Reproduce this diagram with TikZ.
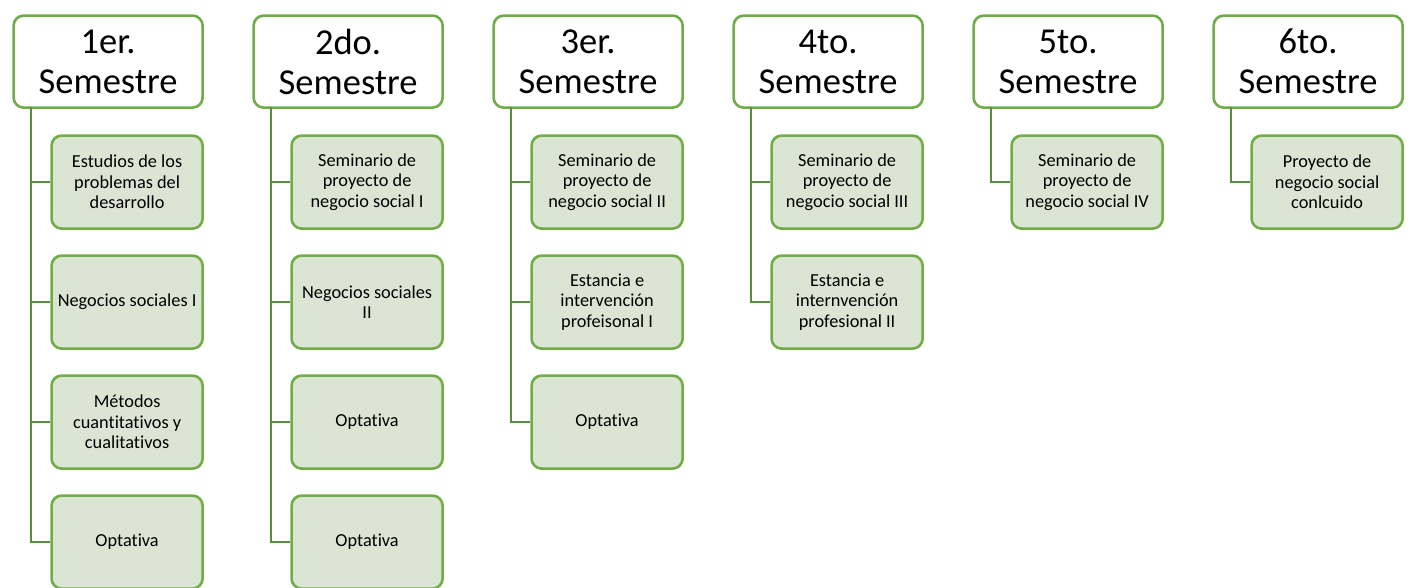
\documentclass[tikz,border=0pt]{standalone}
\usepackage{fontspec}
\setmainfont{Carlito}[Ligatures={NoCommon}]
\definecolor{bord}{HTML}{70AD47}
\definecolor{trunkc}{HTML}{5A8E3C}
\definecolor{fillg}{HTML}{DAE5D4}
\begin{document}
\begin{tikzpicture}[x=1pt,y=-1pt,
  hdr/.style={draw=bord,line width=2.6pt,rounded corners=10pt,fill=white,
    minimum width=189pt,minimum height=92pt,anchor=north west,align=center,
    inner sep=0pt,font=\fontsize{36.5}{40}\selectfont},
  sub/.style={draw=bord,line width=2.6pt,rounded corners=10pt,fill=fillg,
    minimum width=151pt,minimum height=93pt,anchor=north west,align=center,
    inner sep=0pt,font=\fontsize{18.3}{20.5}\selectfont},
  conn/.style={draw=trunkc,line width=2.6pt}]
\useasboundingbox (0,0) rectangle (1411,587);
% connectors (drawn first, behind boxes)
\coordinate (t1) at (31,107);
\coordinate (t2) at (271,107);
\coordinate (t3) at (511,107);
\coordinate (t4) at (751,107);
\coordinate (t5) at (991,107);
\coordinate (t6) at (1231,107);
% headers
\node[hdr] (h1) at (12.3,14.3) {1er.\\Semestre};
\node[hdr] (h2) at (252.3,14.3) {2do.\\Semestre};
\node[hdr] (h3) at (492.3,14.3) {3er.\\Semestre};
\node[hdr] (h4) at (732.3,14.3) {4to.\\Semestre};
\node[hdr] (h5) at (972.3,14.3) {5to.\\Semestre};
\node[hdr] (h6) at (1212.3,14.3) {6to.\\Semestre};
% column 1
\node[sub] (c11) at (50.3,134.3) {Estudios de los\\problemas del\\desarrollo};
\node[sub] (c12) at (50.3,254.3) {Negocios sociales I};
\node[sub] (c13) at (50.3,374.3) {Métodos\\cuantitativos y\\cualitativos};
\node[sub] (c14) at (50.3,494.3) {Optativa};
% column 2
\node[sub] (c21) at (290.3,134.3) {Seminario de\\proyecto de\\negocio social I};
\node[sub] (c22) at (290.3,254.3) {Negocios sociales\\II};
\node[sub] (c23) at (290.3,374.3) {Optativa};
\node[sub] (c24) at (290.3,494.3) {Optativa};
% column 3
\node[sub] (c31) at (530.3,134.3) {Seminario de\\proyecto de\\negocio social II};
\node[sub] (c32) at (530.3,254.3) {Estancia e\\intervención\\profeisonal I};
\node[sub] (c33) at (530.3,374.3) {Optativa};
% column 4
\node[sub] (c41) at (770.3,134.3) {Seminario de\\proyecto de\\negocio social III};
\node[sub] (c42) at (770.3,254.3) {Estancia e\\internvención\\profesional II};
% column 5
\node[sub] (c51) at (1010.3,134.3) {Seminario de\\proyecto de\\negocio social IV};
% column 6
\node[sub] (c61) at (1250.3,134.3) {Proyecto de\\negocio social\\conlcuido};
% connectors
\foreach \t/\c in {t1/c11,t1/c12,t1/c13,t1/c14,t2/c21,t2/c22,t2/c23,t2/c24,
  t3/c31,t3/c32,t3/c33,t4/c41,t4/c42,t5/c51,t6/c61}{
  \draw[conn] (\t) |- (\c.west);
}
\end{tikzpicture}
\end{document}
